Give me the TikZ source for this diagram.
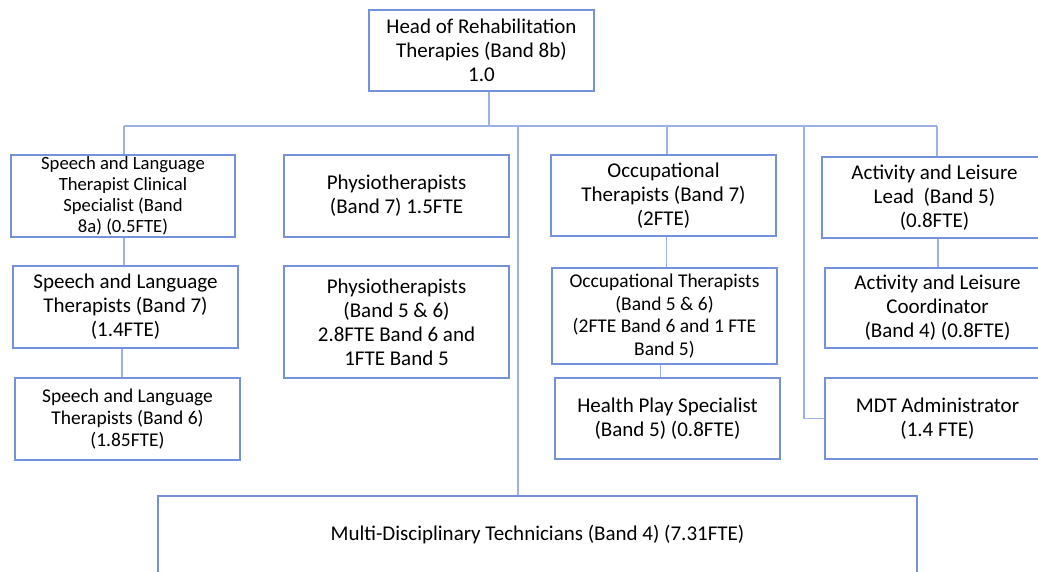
\documentclass[tikz,border=0pt]{standalone}
\usepackage{fontspec}
\setmainfont{Carlito}
\definecolor{boxc}{HTML}{7492D8}
\definecolor{linec}{HTML}{9DB1E6}
\tikzset{
  orgbox/.style={draw=boxc, line width=1.1pt, fill=white, align=center, inner sep=0pt, font=\fontsize{15.75}{18}\selectfont},
  midtxt/.style={font=\fontsize{14.6}{16.8}\selectfont},
  smalltxt/.style={font=\fontsize{14}{15.8}\selectfont},
  link/.style={draw=linec, line width=0.9pt}
}
\begin{document}
\begin{tikzpicture}[x=0.75pt,y=-0.75pt]
\useasboundingbox (0,0) rectangle (1038,571);
\fill[white] (0,0) rectangle (1038,571);
\clip (0,0) rectangle (1038,571);
% connectors first
\coordinate (bl) at (124,126);
\coordinate (br) at (937,126);
\coordinate (hb) at (489,126);
\coordinate (mb) at (518,126);
\coordinate (ob) at (667,126);
\coordinate (db) at (804,126);
\coordinate (dc) at (804,418.5);
% nodes
\node[orgbox, minimum width=168.75pt, minimum height=60.75pt] (head) at (481.5,50.5) {Head of Rehabilitation\\Therapies (Band 8b)\\1.0};
\node[orgbox, smalltxt, minimum width=168pt, minimum height=61.5pt] (sltc) at (123,196) {Speech and Language\\Therapist Clinical\\Specialist (Band\\8a) (0.5FTE)};
\node[orgbox, minimum width=168.75pt, minimum height=61.5pt] (ph7) at (396.5,196) {Physiotherapists\\(Band 7) 1.5FTE};
\node[orgbox, minimum width=168.75pt, minimum height=60.75pt] (ot7) at (663.5,195.5) {Occupational\\Therapists (Band 7)\\(2FTE)};
\node[orgbox, minimum width=168.75pt, minimum height=60.75pt] (al) at (934.5,197.5) {Activity and Leisure\\Lead\ \ (Band 5)\\(0.8FTE)};
\node[orgbox, minimum width=168.75pt, minimum height=61.5pt] (slt7) at (125.5,307) {Speech and Language\\Therapists (Band 7)\\(1.4FTE)};
\node[orgbox, minimum width=168.75pt, minimum height=84pt] (ph56) at (396.5,322) {Physiotherapists\\(Band 5 \& 6)\\2.8FTE Band 6 and\\1FTE Band 5};
\node[orgbox, midtxt, minimum width=168.75pt, minimum height=61.5pt] (slt6) at (127.5,419) {Speech and Language\\Therapists (Band 6)\\(1.85FTE)};
\node[orgbox, midtxt, minimum width=168.75pt, minimum height=72pt] (ot56) at (664.5,316) {Occupational Therapists\\(Band 5 \& 6)\\(2FTE Band 6 and 1 FTE\\Band 5)};
\node[orgbox, minimum width=168.75pt, minimum height=60.75pt] (hps) at (667.5,418.5) {Health Play Specialist\\(Band 5) (0.8FTE)};
\node[orgbox, minimum width=168.75pt, minimum height=60pt] (ac) at (937.5,308) {Activity and Leisure\\Coordinator\\(Band 4) (0.8FTE)};
\node[orgbox, minimum width=168.75pt, minimum height=60.75pt] (mdt) at (937.5,418.5) {MDT Administrator\\(1.4 FTE)};
\node[orgbox, minimum width=569.25pt, minimum height=58.5pt] (multi) at (537.5,535) {Multi-Disciplinary Technicians (Band 4) (7.31FTE)};
% connectors
\draw[link] (hb |- head.south) -- (hb);
\draw[link] (bl) -- (br);
\draw[link] (bl) -- (bl |- sltc.north);
\draw[link] (mb) -- (mb |- multi.north);
\draw[link] (ob) -- (ob |- ot7.north);
\draw[link] (db) -- (dc) -- (mdt.west);
\draw[link] (br) -- (br |- al.north);
\draw[link] (bl |- sltc.south) -- (bl |- slt7.north);
\draw[link] ([xshift=-1.5pt]bl |- slt7.south) -- ([xshift=-1.5pt]bl |- slt6.north);
\draw[link] ([xshift=-0.5pt]ob |- ot7.south) -- ([xshift=-0.5pt]ob |- ot56.north);
\draw[link] ([xshift=-5pt]ob |- ot56.south) -- ([xshift=-5pt]ob |- hps.north);
\draw[link] ([xshift=0.75pt]br |- al.south) -- ([xshift=0.75pt]br |- ac.north);
\end{tikzpicture}
\end{document}
